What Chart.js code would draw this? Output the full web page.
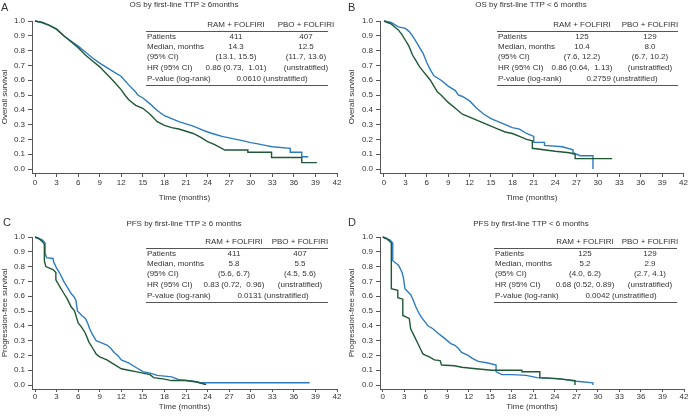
<!DOCTYPE html>
<html lang="en">
<head>
<meta charset="UTF-8">
<title>OS and PFS by first-line TTP</title>
<script src="https://cdn.jsdelivr.net/npm/chart.js"></script>
<style>
  body { margin: 0; background: #fff; width: 689px; height: 420px; position: relative; overflow: hidden;
         font-family: "Liberation Sans", Arial, sans-serif; color: #333; }
  canvas { position: absolute; }
  .t { position: absolute; font-size: 8px; line-height: 1; white-space: pre; }
  .rule { position: absolute; height: 0; border-top: 1px solid #555; }
</style>
</head>
<body>
<canvas id="cA" width="345" height="210" style="left:0;top:0"></canvas>
<canvas id="cB" width="344" height="210" style="left:345px;top:0"></canvas>
<canvas id="cC" width="345" height="210" style="left:0;top:210px"></canvas>
<canvas id="cD" width="344" height="210" style="left:345px;top:210px"></canvas>
<script>
// axis ticks
const xTicks = [0, 3, 6, 9, 12, 15, 18, 21, 24, 27, 30, 33, 36, 39, 42];
const yTicks = [0, 0.1, 0.2, 0.3, 0.4, 0.5, 0.6, 0.7, 0.8, 0.9, 1.0];

// A - OS, first-line TTP >= 6 months (repeated times = vertical drops)
const aRamTime = [0, 1, 2, 3, 4, 5, 6, 7, 8, 9, 10, 11, 12, 13, 14, 14.3, 15, 16, 17, 18, 19, 20, 21, 22, 23, 24, 25, 26, 27, 28, 29, 30, 31, 32, 33, 35.5, 35.5, 37.1, 37.1, 38];
const aRamSurv = [1, 0.99, 0.97, 0.945, 0.9, 0.865, 0.83, 0.79, 0.75, 0.715, 0.685, 0.655, 0.625, 0.57, 0.52, 0.5, 0.48, 0.44, 0.395, 0.36, 0.34, 0.32, 0.305, 0.29, 0.27, 0.25, 0.235, 0.22, 0.21, 0.2, 0.19, 0.178, 0.17, 0.16, 0.15, 0.14, 0.113, 0.113, 0.083, 0.083];
const aPboTime = [0, 1, 2, 3, 4, 5, 6, 7, 8, 9, 10, 11, 12, 12.5, 13, 14, 15, 16, 17, 18, 19, 20, 21, 22, 23, 24, 25, 26.4, 29.6, 29.6, 32.9, 32.9, 37.1, 37.1, 39.2];
const aPboSurv = [1, 0.99, 0.97, 0.945, 0.9, 0.86, 0.82, 0.77, 0.73, 0.69, 0.64, 0.59, 0.535, 0.5, 0.47, 0.43, 0.41, 0.37, 0.32, 0.295, 0.28, 0.27, 0.255, 0.24, 0.215, 0.185, 0.165, 0.128, 0.128, 0.113, 0.113, 0.078, 0.078, 0.043, 0.043];

// B - OS, first-line TTP < 6 months
const bRamTime = [0, 1, 2, 3, 3.5, 4, 4.5, 5, 5.5, 6, 6.5, 7, 8, 9, 10, 10.4, 11, 12, 13, 14, 15, 16, 17, 18, 19, 20, 21, 21, 22.5, 22.5, 25, 26.5, 26.5, 27.5, 29.3, 29.3];
const bRamSurv = [1, 0.99, 0.96, 0.95, 0.93, 0.9, 0.86, 0.82, 0.78, 0.72, 0.67, 0.63, 0.6, 0.56, 0.53, 0.5, 0.49, 0.46, 0.41, 0.37, 0.34, 0.32, 0.3, 0.28, 0.27, 0.24, 0.22, 0.18, 0.18, 0.16, 0.15, 0.13, 0.11, 0.09, 0.09, 0.0];
const bPboTime = [0, 0.5, 1, 1.5, 2, 2.5, 3, 3.5, 4, 4.5, 5, 5.5, 6, 6.5, 7, 7.5, 8, 9, 10, 11, 12, 13, 14, 15, 16, 17, 18, 19, 20, 20.8, 20.8, 24, 26, 26.8, 26.8, 32];
const bPboSurv = [1, 0.99, 0.98, 0.96, 0.94, 0.91, 0.87, 0.83, 0.77, 0.73, 0.69, 0.66, 0.63, 0.6, 0.56, 0.52, 0.5, 0.45, 0.41, 0.37, 0.35, 0.33, 0.31, 0.29, 0.27, 0.25, 0.24, 0.22, 0.2, 0.19, 0.14, 0.12, 0.11, 0.1, 0.07, 0.07];

// C - PFS, first-line TTP >= 6 months
const cRamTime = [0, 0.5, 1, 1.4, 1.4, 1.6, 2.5, 2.6, 3, 3.5, 4, 4.5, 5, 5.5, 5.7, 5.9, 6.5, 7, 7.3, 7.6, 8, 8.5, 9, 10, 10.5, 11, 11.5, 12, 13, 14, 15, 16, 17, 19, 20, 22, 23, 38.2];
const cRamSurv = [1, 0.99, 0.98, 0.96, 0.89, 0.86, 0.855, 0.83, 0.79, 0.75, 0.7, 0.66, 0.62, 0.59, 0.57, 0.5, 0.47, 0.45, 0.42, 0.38, 0.34, 0.3, 0.29, 0.27, 0.25, 0.22, 0.2, 0.17, 0.15, 0.12, 0.09, 0.08, 0.065, 0.055, 0.036, 0.025, 0.015, 0.015];
const cPboTime = [0, 0.5, 1, 1.3, 1.3, 1.5, 2.5, 2.9, 2.9, 3.5, 4, 4.5, 5, 5.5, 6, 6.5, 7, 7.5, 8, 8.5, 9, 10, 11, 12, 13, 14, 15, 16, 16.5, 18, 19, 21, 22.5, 23.6, 23.8];
const cPboSurv = [1, 0.99, 0.97, 0.95, 0.84, 0.8, 0.78, 0.76, 0.71, 0.66, 0.62, 0.58, 0.53, 0.5, 0.42, 0.39, 0.35, 0.29, 0.25, 0.21, 0.19, 0.17, 0.14, 0.11, 0.1, 0.09, 0.08, 0.07, 0.05, 0.04, 0.03, 0.03, 0.02, 0.005, 0.005];

// D - PFS, first-line TTP < 6 months
const dRamTime = [0, 0.5, 1, 1.4, 1.4, 2.2, 2.7, 2.9, 3.1, 3.9, 4.2, 4.6, 5.1, 5.5, 6, 6.3, 7, 7.7, 8.5, 9, 9.5, 10, 10.5, 11, 11.9, 12.5, 13.3, 14.5, 15.8, 15.8, 16.6, 18, 20, 21.5, 25, 27, 29.3, 29.3];
const dRamSurv = [1, 0.99, 0.98, 0.96, 0.84, 0.81, 0.76, 0.72, 0.65, 0.61, 0.58, 0.53, 0.48, 0.45, 0.42, 0.4, 0.38, 0.35, 0.32, 0.3, 0.28, 0.27, 0.25, 0.22, 0.2, 0.18, 0.16, 0.15, 0.135, 0.09, 0.07, 0.07, 0.065, 0.05, 0.04, 0.025, 0.015, 0.0];
const dPboTime = [0, 0.5, 1, 1.2, 1.2, 2.1, 2.1, 2.8, 2.8, 3.7, 3.9, 4.4, 4.9, 5.3, 5.6, 6, 6.5, 7.2, 8, 8.2, 10, 11, 13, 15.2, 19.4, 19.4, 21.9, 21.9, 24, 26.8, 26.8];
const dPboSurv = [1, 0.99, 0.97, 0.96, 0.65, 0.64, 0.59, 0.58, 0.47, 0.45, 0.38, 0.33, 0.28, 0.24, 0.21, 0.2, 0.19, 0.17, 0.165, 0.135, 0.13, 0.12, 0.11, 0.1, 0.1, 0.09, 0.09, 0.05, 0.045, 0.03, 0.0];

// summary tables
const rowLabels = ['Patients', 'Median, months', '(95% CI)', 'HR (95% CI)', 'P-value (log-rank)'];
const armNames = ['RAM + FOLFIRI', 'PBO + FOLFIRI'];
const aRamCol = ['411', '14.3', '(13.1, 15.5)', '0.86 (0.73,  1.01)'];
const aPboCol = ['407', '12.5', '(11.7, 13.6)', '(unstratified)'];
const aPval = '0.0610 (unstratified)';
const bRamCol = ['125', '10.4', '(7.6, 12.2)', '0.86 (0.64,  1.13)'];
const bPboCol = ['129', '8.0', '(6.7, 10.2)', '(unstratified)'];
const bPval = '0.2759 (unstratified)';
const cRamCol = ['411', '5.8', '(5.6, 6.7)', '0.83 (0.72,  0.96)'];
const cPboCol = ['407', '5.5', '(4.5, 5.6)', '(unstratified)'];
const cPval = '0.0131 (unstratified)';
const dRamCol = ['125', '5.2', '(4.0, 6.2)', '0.68 (0.52, 0.89)'];
const dPboCol = ['129', '2.9', '(2.7, 4.1)', '(unstratified)'];
const dPval = '0.0042 (unstratified)';

const blue = '#2d7bbf';
const green = '#1e5834';

Chart.defaults.font.family = '"Liberation Sans", Arial, sans-serif';
Chart.defaults.font.size = 8;
Chart.defaults.color = '#333';

function makePanel(id, ramT, ramS, pboT, pboS, yTitle, g) {
    const pts = (t, s) => t.map((v, i) => ({ x: v, y: s[i] }));
    const axisLine = { display: true, color: '#555', width: 1 };
    new Chart(document.getElementById(id), {
        type: 'line',
        data: {
            datasets: [
                { label: armNames[1], data: pts(pboT, pboS), borderColor: green, borderWidth: 1.4, pointRadius: 0, tension: 0, clip: false },
                { label: armNames[0], data: pts(ramT, ramS), borderColor: blue, borderWidth: 1.4, pointRadius: 0, tension: 0, clip: false }
            ]
        },
        options: {
            responsive: false,
            animation: false,
            layout: { padding: { left: 0, right: g.padRight, top: g.top, bottom: 0 } },
            plugins: { legend: { display: false }, tooltip: { enabled: false } },
            scales: {
                x: {
                    type: 'linear', min: g.xMin, max: 42,
                    afterBuildTicks: s => { s.ticks = xTicks.map(v => ({ value: v })); },
                    afterFit: s => { s.height = g.xHeight; },
                    ticks: { autoSkip: false, maxRotation: 0, padding: g.xPad },
                    grid: { drawOnChartArea: false, tickLength: g.tickLen, color: '#555' },
                    border: axisLine,
                    title: { display: true, text: 'Time (months)', padding: { top: 0, bottom: g.xTitlePad } }
                },
                y: {
                    type: 'linear', min: g.yMin, max: 1,
                    afterBuildTicks: s => { s.ticks = yTicks.map(v => ({ value: v })); },
                    afterFit: s => { s.width = g.yWidth; },
                    ticks: { padding: 3, callback: v => v.toFixed(1) },
                    grid: { drawOnChartArea: false, tickLength: 4, color: '#555' },
                    border: axisLine,
                    title: { display: true, text: yTitle, padding: { top: g.yTitlePad, bottom: 0 } }
                }
            }
        }
    });
}

makePanel('cA', aRamTime, aRamSurv, aPboTime, aPboSurv, 'Overall survival',
    { padRight: 8, top: 21, xMin: -0.42, yMin: -0.027, xHeight: 37, yWidth: 32, xPad: 1, tickLen: 4, xTitlePad: 7, yTitlePad: 0 });
makePanel('cB', bRamTime, bRamSurv, bPboTime, bPboSurv, 'Overall survival',
    { padRight: 5, top: 21, xMin: -0.56, yMin: -0.027, xHeight: 37, yWidth: 35, xPad: 1, tickLen: 4, xTitlePad: 7, yTitlePad: 2 });
makePanel('cC', cRamTime, cRamSurv, cPboTime, cPboSurv, 'Progression-free survival',
    { padRight: 8, top: 27, xMin: -0.42, yMin: -0.027, xHeight: 31, yWidth: 32, xPad: 0, tickLen: 3, xTitlePad: 8, yTitlePad: 0 });
makePanel('cD', dRamTime, dRamSurv, dPboTime, dPboSurv, 'Progression-free survival',
    { padRight: 5, top: 27, xMin: -0.38, yMin: -0.027, xHeight: 31, yWidth: 35, xPad: 0, tickLen: 3, xTitlePad: 8, yTitlePad: 2 });

// text overlays
function addText(str, x, y, align, size) {
    const el = document.createElement('div');
    el.className = 't';
    el.textContent = str;
    el.style.left = x + 'px';
    el.style.top = y + 'px';
    if (size) el.style.fontSize = size + 'px';
    el.style.transform = align === 'center' ? 'translate(-50%, -50%)' : 'translate(0, -50%)';
    document.body.appendChild(el);
}
function addRule(x1, x2, y) {
    const el = document.createElement('div');
    el.className = 'rule';
    el.style.left = x1 + 'px';
    el.style.width = (x2 - x1) + 'px';
    el.style.top = y + 'px';
    document.body.appendChild(el);
}
function addTable(t, ramCol, pboCol, pval) {
    addText(armNames[0], t.col1, t.y, 'center');
    addText(armNames[1], t.col2, t.y, 'center');
    addRule(t.left, t.right, t.y + 6);
    const rowY = [12, 22, 32, 43, 54];
    rowLabels.forEach((lab, i) => addText(lab, t.left + 1, t.y + rowY[i], 'left'));
    ramCol.forEach((v, i) => addText(v, t.col1, t.y + rowY[i], 'center'));
    pboCol.forEach((v, i) => addText(v, t.col2, t.y + rowY[i], 'center'));
    addText(pval, t.pmid, t.y + rowY[4], 'center');
    addRule(t.left, t.right, t.y + 60);
}

addText('A', 1, 7, 'left', 11);
addText('B', 348, 7, 'left', 11);
addText('C', 3, 222, 'left', 11);
addText('D', 348, 222, 'left', 11);
addText('OS by first-line TTP \u2265 6months', 184, 5, 'center');
addText('OS by first-line TTP < 6 months', 531, 5, 'center');
addText('PFS by first-line TTP \u2265 6 months', 184, 224, 'center');
addText('PFS by first-line TTP < 6 months', 531, 224, 'center');

addTable({ left: 146, right: 328, col1: 236, col2: 306, pmid: 272, y: 25 }, aRamCol, aPboCol, aPval);
addTable({ left: 497, right: 678, col1: 582, col2: 650, pmid: 622, y: 25 }, bRamCol, bPboCol, bPval);
addTable({ left: 146, right: 328, col1: 234, col2: 300, pmid: 273, y: 242 }, cRamCol, cPboCol, cPval);
addTable({ left: 494, right: 677, col1: 585, col2: 650, pmid: 621, y: 242 }, dRamCol, dPboCol, dPval);
</script>
</body>
</html>
